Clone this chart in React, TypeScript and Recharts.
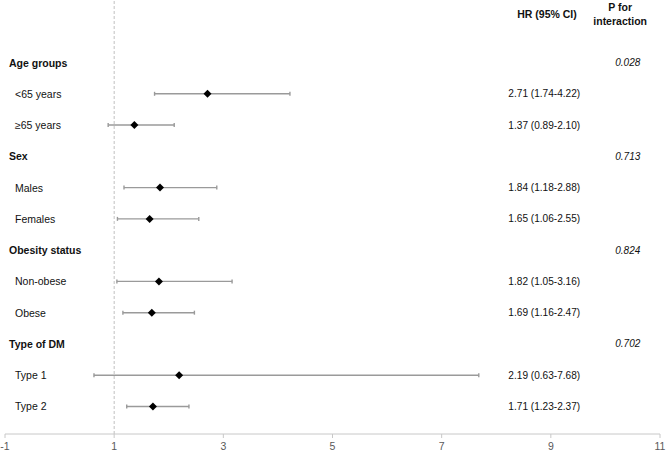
import {
  ScatterChart,
  Scatter,
  XAxis,
  YAxis,
  ErrorBar,
  ReferenceLine,
} from 'recharts';

const groupLabels = ['Age groups', 'Sex', 'Obesity status', 'Type of DM'];
const pInteraction = ['0.028', '0.713', '0.824', '0.702'];
const subgroupLabels = ['<65 years', '≥65 years', 'Males', 'Females', 'Non-obese', 'Obese', 'Type 1', 'Type 2'];
const hrValues = [2.71, 1.37, 1.84, 1.65, 1.82, 1.69, 2.19, 1.71];
const ciLow = [1.74, 0.89, 1.18, 1.06, 1.05, 1.16, 0.63, 1.23];
const ciHigh = [4.22, 2.10, 2.88, 2.55, 3.16, 2.47, 7.68, 2.37];
const xTicks = [-1, 1, 3, 5, 7, 9, 11];

const FONT = '"Liberation Sans", Arial, sans-serif';
const HR_COL = 8.88;
const P_COL = 10.41;

// row index for each group header / subgroup line
const groupRow = (g: number) => 2 + 3 * g;
const subRow = (s: number) => 3 + 3 * Math.floor(s / 2) + (s % 2);

const points = subgroupLabels.map((name, i) => ({
  name,
  x: hrValues[i],
  row: subRow(i),
  err: [hrValues[i] - ciLow[i], ciHigh[i] - hrValues[i]],
}));

const labelRows = [
  ...groupLabels.map((text, g) => ({ x: -1, row: groupRow(g), text, bold: true })),
  ...subgroupLabels.map((text, i) => ({ x: -1, row: subRow(i), text, bold: false })),
];

const hrRows = subgroupLabels.map((_, i) => ({
  x: HR_COL,
  row: subRow(i),
  text: `${hrValues[i].toFixed(2)} (${ciLow[i].toFixed(2)}-${ciHigh[i].toFixed(2)})`,
}));

const pRows = pInteraction.map((text, g) => ({ x: P_COL, row: groupRow(g), text }));

const headerRows = [
  { x: 8.93, row: 0.45, kind: 'hr' },
  { x: 10.27, row: 0.45, kind: 'p' },
];

const Diamond = ({ cx, cy }: any) => (
  <polygon
    points={`${cx},${cy - 4} ${cx + 4},${cy} ${cx},${cy + 4} ${cx - 4},${cy}`}
    fill="#000"
  />
);

const RowLabel = ({ cx, cy, payload }: any) => (
  <text
    x={cx + (payload.bold ? 4 : 10)}
    y={cy}
    dominantBaseline="central"
    fontFamily={FONT}
    fontSize={10.5}
    fontWeight={payload.bold ? 'bold' : 'normal'}
    fill="#111"
  >
    {payload.text}
  </text>
);

const HrText = ({ cx, cy, payload }: any) => (
  <text x={cx} y={cy} textAnchor="middle" dominantBaseline="central" fontFamily={FONT} fontSize={10.1} fill="#111">
    {payload.text}
  </text>
);

const PText = ({ cx, cy, payload }: any) => (
  <text
    x={cx}
    y={cy}
    textAnchor="middle"
    dominantBaseline="central"
    fontFamily={FONT}
    fontSize={10}
    fontStyle="italic"
    fill="#111"
  >
    {payload.text}
  </text>
);

const HeaderText = ({ cx, cy, payload }: any) => {
  if (payload.kind === 'hr') {
    return (
      <text x={cx} y={cy} textAnchor="middle" dominantBaseline="central" fontFamily={FONT} fontSize={10.5} fontWeight="bold" fill="#111">
        HR (95% CI)
      </text>
    );
  }
  return (
    <text textAnchor="middle" fontFamily={FONT} fontSize={10.5} fontWeight="bold" fill="#111">
      <tspan x={cx} y={cy - 7} dominantBaseline="central">P for</tspan>
      <tspan x={cx} y={cy + 7} dominantBaseline="central">interaction</tspan>
    </text>
  );
};

export default function App() {
  return (
    <div style={{ position: 'absolute', left: 0, top: 0, background: '#fff' }}>
      <ScatterChart width={669} height={452} margin={{ top: 0, right: 9, bottom: 0, left: 5 }}>
        <XAxis
          type="number"
          dataKey="x"
          domain={[-1, 11]}
          ticks={xTicks}
          allowDataOverflow
          stroke="#c8c8c8"
          tickSize={4}
          tickMargin={5}
          height={18}
          tick={{ fontSize: 10.5, fill: '#595959', fontFamily: FONT }}
        />
        <YAxis type="number" dataKey="row" domain={[0, 13.88]} reversed hide allowDataOverflow />
        <ReferenceLine x={1} stroke="#c0c0c0" strokeDasharray="3 2" />
        <Scatter data={points} dataKey="row" isAnimationActive={false} shape={<Diamond />}>
          <ErrorBar dataKey="err" direction="x" width={2} stroke="#9a9a9a" strokeWidth={1.4} />
        </Scatter>
        <Scatter data={labelRows} dataKey="row" isAnimationActive={false} shape={<RowLabel />} />
        <Scatter data={hrRows} dataKey="row" isAnimationActive={false} shape={<HrText />} />
        <Scatter data={pRows} dataKey="row" isAnimationActive={false} shape={<PText />} />
        <Scatter data={headerRows} dataKey="row" isAnimationActive={false} shape={<HeaderText />} />
      </ScatterChart>
    </div>
  );
}
